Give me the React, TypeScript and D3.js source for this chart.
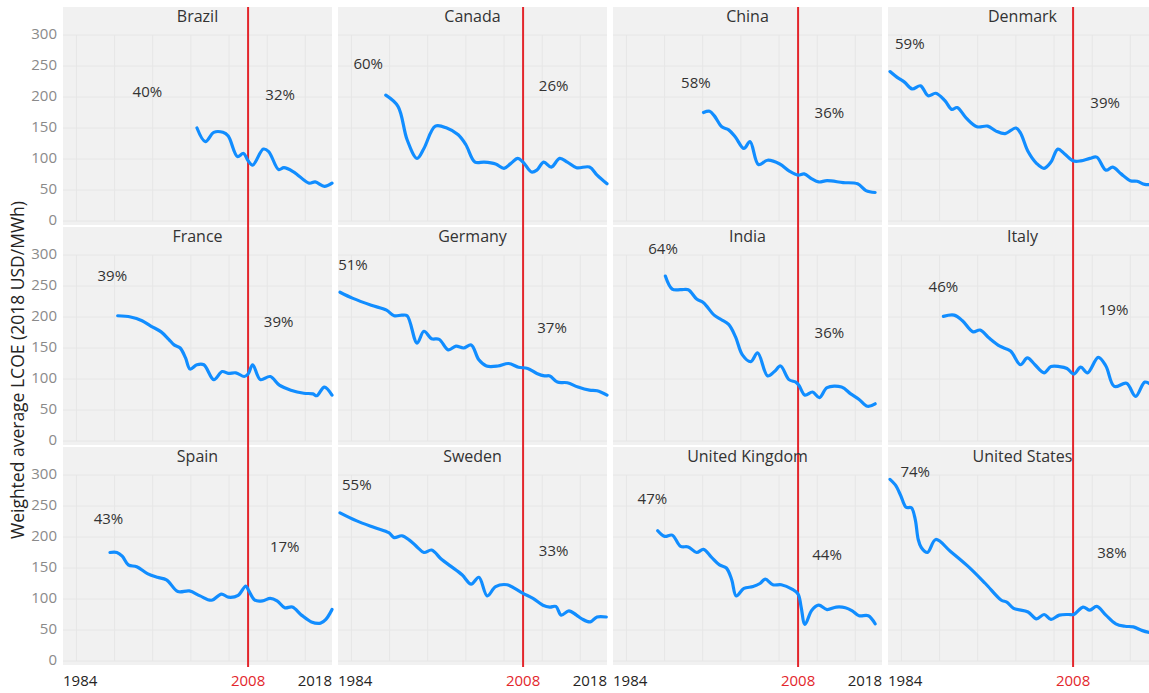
import React from 'react';
import * as d3 from 'd3';

type Pt = [number, number];

const countries = ['Brazil', 'Canada', 'China', 'Denmark', 'France', 'Germany', 'India', 'Italy', 'Spain', 'Sweden', 'United Kingdom', 'United States'];

const brazil: Pt[] = [[2001.3,150],[2002.4,128],[2003.5,143],[2004.7,143],[2005.4,137],[2006.6,104],[2007.4,109],[2008,97],[2008.6,90],[2010,116],[2010.7,112],[2012,83],[2012.7,86],[2014,79],[2016,61],[2016.8,63],[2018,56],[2019,61]];
const canada: Pt[] = [[1990,203],[1991.6,185],[1992.8,131],[1994.1,101],[1995,117],[1996.5,153],[1998,150],[1999.5,139],[2000.5,123],[2001.7,95],[2002.9,95],[2004.4,92],[2005.5,85],[2006.4,93],[2007.3,101],[2008,95],[2009.1,79],[2009.8,82],[2010.7,95],[2011.7,87],[2012.8,101],[2013.8,95],[2015,86],[2016.7,87],[2017.7,74],[2019,60]];
const china: Pt[] = [[1995.6,175],[1996.4,177],[1997,170],[1998,152],[1998.9,147],[1999.8,135],[2000.9,117],[2001.7,128],[2002.8,91],[2004,98],[2005.6,92],[2006.8,81],[2008,74],[2008.8,76],[2009.8,68],[2010.7,63],[2011.8,65],[2013.9,62],[2015.8,60],[2016.9,49],[2018.1,46]];
const denmark: Pt[] = [[1984,241],[1984.9,232],[1985.9,224],[1986.9,213],[1988,218],[1989,202],[1990,206],[1991.2,194],[1992.1,180],[1992.8,183],[1994,166],[1995.4,152],[1996.8,153],[1997.9,145],[1999.1,141],[2000.5,150],[2001.1,142],[2002.1,112],[2003.2,93],[2004.2,85],[2005.1,95],[2006,116],[2006.9,108],[2008,97],[2009,97],[2010.2,101],[2011.1,103],[2012.3,82],[2013.2,87],[2014.3,76],[2015.5,65],[2016.4,64],[2017.4,59],[2018.3,59]];
const france: Pt[] = [[1990.9,202],[1992.6,200],[1994.1,194],[1995.3,185],[1996.6,176],[1997.6,164],[1998.3,155],[1999.1,150],[1999.8,134],[2000.4,116],[2001.3,123],[2002.2,123],[2003.5,99],[2004.6,112],[2005.4,109],[2006.4,110],[2007.5,104],[2008,108],[2008.6,123],[2009.6,99],[2010.9,104],[2012.1,90],[2013.6,82],[2015.3,77],[2016.5,76],[2017,73],[2018,87],[2019,74]];
const germany: Pt[] = [[1984,240],[1985.7,230],[1988.1,219],[1990.1,211],[1991.1,202],[1992.1,203],[1992.8,202],[1994.1,158],[1995,177],[1996,165],[1997,164],[1998.2,147],[1999.2,153],[2000.2,150],[2001.2,155],[2002.2,131],[2003.2,121],[2004.7,121],[2006.1,125],[2007.4,119],[2008.6,117],[2009.8,109],[2010.8,105],[2011.5,105],[2012.5,95],[2013.8,94],[2015.2,87],[2016.7,82],[2017.7,81],[2019,74]];
const india: Pt[] = [[1990.6,266],[1991.5,245],[1992.6,244],[1993.6,244],[1994.7,229],[1995.6,223],[1997,203],[1997.9,196],[1998.9,188],[1999.8,168],[2000.7,139],[2001.8,128],[2002.7,142],[2004,105],[2004.9,112],[2005.7,121],[2006.8,99],[2007.7,95],[2008.1,90],[2008.9,74],[2009.9,79],[2010.8,70],[2011.8,86],[2013.7,87],[2014.9,76],[2016,67],[2017.1,56],[2018.1,60]];
const italy: Pt[] = [[1991,201],[1992.4,203],[1993.5,194],[1994.9,176],[1995.8,179],[1997,166],[1998.4,153],[1999.8,145],[2001.1,123],[2002,134],[2003,123],[2004.2,110],[2005.1,120],[2006.2,120],[2007.2,117],[2008.1,108],[2009,119],[2009.9,110],[2011.3,135],[2012.3,121],[2013.4,88],[2015,93],[2016.2,72],[2017.4,95],[2018.3,90]];
const spain: Pt[] = [[1989.9,175],[1990.8,175],[1991.5,169],[1992.3,155],[1993.4,152],[1994.8,141],[1996.1,135],[1997.3,131],[1998.8,112],[2000.3,113],[2001.7,105],[2003.2,98],[2004.5,108],[2005.4,103],[2006.7,106],[2007.7,121],[2008.1,113],[2008.9,98],[2009.9,97],[2010.9,101],[2011.8,97],[2012.8,86],[2013.8,87],[2015,74],[2016.3,63],[2017.5,61],[2018.2,67],[2019,83]];
const sweden: Pt[] = [[1984,239],[1986.2,226],[1988.6,215],[1990.4,207],[1991.1,199],[1992.1,202],[1993.1,195],[1994.1,184],[1995,175],[1996,179],[1997.3,164],[1998.5,153],[2000,139],[2001.2,124],[2002.2,135],[2003.3,105],[2004.4,120],[2005.9,123],[2006.9,117],[2008,109],[2009.3,101],[2010.6,90],[2011.5,87],[2012.3,88],[2013,74],[2014,81],[2015,74],[2015.7,68],[2016.8,63],[2017.7,71],[2018.9,71]];
const uk: Pt[] = [[1989.6,210],[1990.5,201],[1991.5,203],[1992.6,185],[1993.6,184],[1994.7,175],[1995.6,180],[1996.6,168],[1997.7,155],[1998.6,150],[1999.3,131],[1999.9,105],[2000.9,117],[2002.1,120],[2003,125],[2003.7,132],[2004.7,123],[2005.8,123],[2007.2,116],[2008,108],[2008.4,87],[2008.9,59],[2009.8,82],[2010.7,90],[2011.8,83],[2013,87],[2014.2,86],[2015.1,81],[2016,73],[2017.2,73],[2018.1,60]];
const us: Pt[] = [[1984,293],[1984.7,284],[1985.4,267],[1986.1,248],[1986.8,247],[1987.3,229],[1987.7,196],[1988.1,183],[1988.9,175],[1990,196],[1991.9,177],[1994.2,153],[1996.5,125],[1998.6,98],[1999.3,95],[2000.2,85],[2002.1,79],[2003.2,68],[2004.2,75],[2005.1,67],[2006.2,74],[2007.4,75],[2008.1,75],[2009.3,87],[2010.2,82],[2011.1,88],[2012.3,74],[2013.6,60],[2014.8,56],[2015.9,55],[2017.1,49],[2018.3,45]];

const series: Pt[][] = [brazil, canada, china, denmark, france, germany, india, italy, spain, sweden, uk, us];

const leftPct = ['40%', '60%', '58%', '59%', '39%', '51%', '64%', '46%', '43%', '55%', '47%', '74%'];
const rightPct = ['32%', '26%', '36%', '39%', '39%', '37%', '36%', '19%', '17%', '33%', '44%', '38%'];
const leftPctAnchor: Pt[] = [[1994.8,207],[1987.7,251],[1994.6,221],[1986.6,284],[1990.2,265],[1985.7,282],[1990.3,308],[1991,247],[1989.7,227],[1986.2,282],[1988.9,260],[1987.3,303]];
const rightPctAnchor: Pt[] = [[2012.2,202],[2012,216],[2012.1,173],[2012.2,189],[2012,190],[2011.8,181],[2012.1,173],[2013.3,210],[2012.8,182],[2012,176],[2011.8,169],[2013.1,173]];

const yTicks = [0, 50, 100, 150, 200, 250, 300];
const gridYears = [1985.5, 1990.5, 1995.5, 2000.5, 2005.5, 2010.5, 2015.5];
const startYear = 1984;
const endYear = 2019;
const markerYear = 2008;
const lastLabelYear = 2018;
const yTitle = 'Weighted average LCOE (2018 USD/MWh)';

const W = 1149;
const H = 693;
const FONT = "'Segoe UI', 'Open Sans', 'Noto Sans', sans-serif";
const BLUE = '#118DFF';
const RED = '#E3262C';

const COL0 = 63;
const COL_PITCH = 275;
const PANEL_W = 269;
const ROW0 = 7;
const ROW_PITCH = 220;
const PANEL_H = 218;

export default function App() {
  const line = d3.line<Pt>().curve(d3.curveCatmullRom.alpha(0.5));
  const panels = countries.map((name, i) => {
    const r = Math.floor(i / 4);
    const c = i % 4;
    const left = COL0 + c * COL_PITCH;
    const top = ROW0 + r * ROW_PITCH;
    const x = d3.scaleLinear().domain([startYear, endYear]).range([left + 2, left + PANEL_W]);
    const y = d3.scaleLinear().domain([0, 300]).range([top + 214, top + 28]);
    return { name, r, c, left, top, x, y, data: series[i], i };
  });

  const topY = ROW0;
  const bottomY = ROW0 + 2 * ROW_PITCH + PANEL_H + 2;

  return (
    <svg width={W} height={H} style={{ position: 'absolute', left: 0, top: 0, background: '#fff' }} fontFamily={FONT}>
      {panels.map((p) => (
        <g key={p.name}>
          <rect x={p.left} y={p.top} width={PANEL_W} height={PANEL_H} fill="#f1f1f1" />
          {yTicks.map((t) => (
            <line key={'h' + t} x1={p.left} x2={p.left + PANEL_W} y1={p.y(t)} y2={p.y(t)} stroke="#e6e6e6" strokeWidth={1} />
          ))}
          {gridYears.map((g) => (
            <line key={'v' + g} x1={p.x(g)} x2={p.x(g)} y1={p.top + 28} y2={p.y(0)} stroke="#e6e6e6" strokeWidth={1} />
          ))}
        </g>
      ))}
      {panels.filter((p) => p.r === 0).map((p) => (
        <line key={'red' + p.c} x1={p.x(markerYear)} x2={p.x(markerYear)} y1={topY} y2={bottomY} stroke={RED} strokeWidth={2} />
      ))}
      {panels.map((p) => (
        <g key={'d' + p.name}>
          <path d={line(p.data.map((d) => [p.x(d[0]), p.y(d[1])] as Pt)) || ''} fill="none" stroke={BLUE} strokeWidth={3.2} strokeLinejoin="round" strokeLinecap="round" />
          <text x={p.left + PANEL_W / 2} y={p.top + 11} textAnchor="middle" dominantBaseline="middle" fontSize={16} fill="#333">{p.name}</text>
          <text x={p.x(leftPctAnchor[p.i][0])} y={p.y(leftPctAnchor[p.i][1])} textAnchor="middle" dominantBaseline="middle" fontSize={15} fill="#333">{leftPct[p.i]}</text>
          <text x={p.x(rightPctAnchor[p.i][0])} y={p.y(rightPctAnchor[p.i][1])} textAnchor="middle" dominantBaseline="middle" fontSize={15} fill="#333">{rightPct[p.i]}</text>
        </g>
      ))}
      {panels.filter((p) => p.c === 0).map((p) => (
        <g key={'yt' + p.r}>
          {yTicks.map((t) => (
            <text key={t} x={57} y={p.y(t)} textAnchor="end" dominantBaseline="middle" fontSize={15} fill="#8a8a8a">{t}</text>
          ))}
        </g>
      ))}
      {panels.filter((p) => p.r === 2).map((p) => (
        <g key={'xt' + p.c}>
          <text x={p.x(startYear) - 2} y={682} textAnchor="start" dominantBaseline="middle" fontSize={15} fill="#252423">{startYear}</text>
          <text x={p.x(markerYear)} y={682} textAnchor="middle" dominantBaseline="middle" fontSize={15} fill={RED}>{markerYear}</text>
          {p.left + PANEL_W <= W && (
            <text x={p.left + PANEL_W} y={682} textAnchor="end" dominantBaseline="middle" fontSize={15} fill="#252423">{lastLabelYear}</text>
          )}
        </g>
      ))}
      <text transform="translate(19,370) rotate(-90)" textAnchor="middle" dominantBaseline="middle" fontSize={17.5} fill="#252423">{yTitle}</text>
    </svg>
  );
}
